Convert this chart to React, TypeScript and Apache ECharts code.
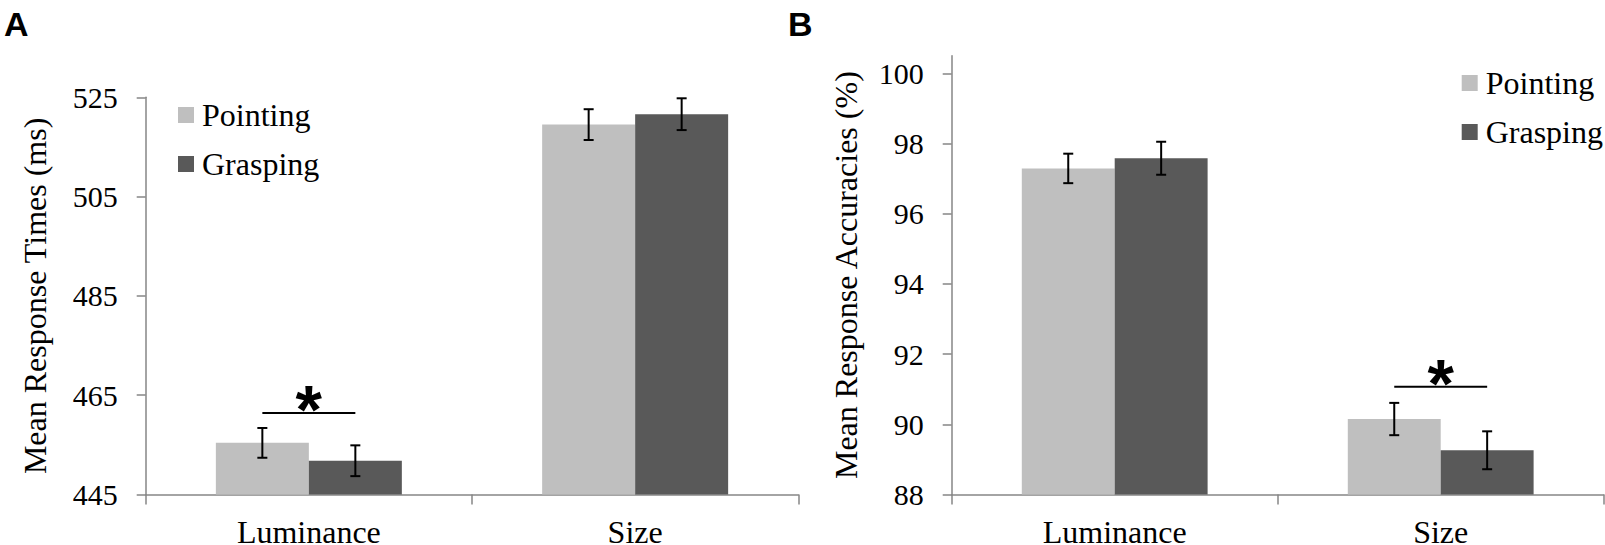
import React, { useEffect, useRef } from "react";
import * as echarts from "echarts";

const categories = ["Luminance", "Size"];
const seriesNames = ["Pointing", "Grasping"];

// Panel A: Mean response times (ms)
const rtPointing = [455.4, 519.5];
const rtPointingErr = [3.0, 3.1];
const rtGrasping = [451.8, 521.6];
const rtGraspingErr = [3.1, 3.2];
const rtTicks = [445, 465, 485, 505, 525];
const rtSig = [{ category: 0, level: 461.4 }];

// Panel B: Mean response accuracies (%)
const accPointing = [97.29, 90.15];
const accPointingErr = [0.42, 0.46];
const accGrasping = [97.58, 89.26];
const accGraspingErr = [0.47, 0.54];
const accTicks = [88, 90, 92, 94, 96, 98, 100];
const accSig = [{ category: 1, level: 91.07 }];

const SERIF = '"Liberation Serif", "Times New Roman", serif';
const SANS = '"Liberation Sans", Arial, sans-serif';
const AXIS = "#868686";
const LIGHT = "#bfbfbf";
const DARK = "#595959";
const GAP = 0.43;

function errorSeries(ai: number, vals: number[], errs: number[], side: number) {
  return {
    type: "custom",
    name: "err" + ai + side,
    xAxisIndex: ai,
    yAxisIndex: ai,
    silent: true,
    z: 10,
    data: vals.map((v, i) => [i, v - errs[i], v + errs[i], side]),
    encode: { x: 0, y: [1, 2] },
    renderItem: (_params: any, api: any) => {
      const lo = api.coord([api.value(0), api.value(1)]);
      const hi = api.coord([api.value(0), api.value(2)]);
      const bw = (api.size([1, 0])[0] * (1 - GAP)) / 2;
      const x = lo[0] + (api.value(3) === 0 ? -bw / 2 : bw / 2);
      const cap = 5;
      const style = { stroke: "#000", lineWidth: 2 };
      return {
        type: "group",
        children: [
          { type: "line", shape: { x1: x, y1: hi[1], x2: x, y2: lo[1] }, style },
          { type: "line", shape: { x1: x - cap, y1: hi[1], x2: x + cap, y2: hi[1] }, style },
          { type: "line", shape: { x1: x - cap, y1: lo[1], x2: x + cap, y2: lo[1] }, style },
        ],
      };
    },
  };
}

function sigSeries(ai: number, sig: { category: number; level: number }[]) {
  return {
    type: "custom",
    name: "sig" + ai,
    xAxisIndex: ai,
    yAxisIndex: ai,
    silent: true,
    z: 10,
    data: sig.map((s) => [s.category, s.level]),
    encode: { x: 0, y: 1 },
    renderItem: (_params: any, api: any) => {
      const p = api.coord([api.value(0), api.value(1)]);
      const bw = (api.size([1, 0])[0] * (1 - GAP)) / 2;
      return {
        type: "group",
        children: [
          {
            type: "line",
            shape: { x1: p[0] - bw / 2, y1: p[1], x2: p[0] + bw / 2, y2: p[1] },
            style: { stroke: "#000", lineWidth: 2 },
          },
          {
            type: "text",
            style: {
              text: "*",
              x: p[0],
              y: p[1] - 4,
              align: "center",
              verticalAlign: "middle",
              font: "bold 68px " + SANS,
              fill: "#000",
            },
          },
        ],
      };
    },
  };
}

function barSeries(ai: number, name: string, vals: number[], color: string) {
  return {
    type: "bar",
    name,
    xAxisIndex: ai,
    yAxisIndex: ai,
    data: vals,
    barGap: "0%",
    barCategoryGap: GAP * 100 + "%",
    itemStyle: { color },
    silent: true,
  };
}

function xAxis(gi: number) {
  return {
    type: "category",
    gridIndex: gi,
    data: categories,
    axisLine: { show: true, lineStyle: { color: AXIS, width: 1.5 } },
    axisTick: { show: true, length: 10, inside: false, lineStyle: { color: AXIS, width: 1.5 } },
    axisLabel: { fontSize: 32, lineHeight: 24, color: "#000", margin: 25, fontFamily: SERIF },
    splitLine: { show: false },
  };
}

function yAxis(gi: number, min: number, max: number, ticks: number[], name: string, nameGap: number) {
  return {
    type: "value",
    gridIndex: gi,
    min,
    max,
    name,
    nameLocation: "middle",
    nameGap,
    nameTextStyle: { fontSize: 32, color: "#000", fontFamily: SERIF },
    axisLine: { show: true, lineStyle: { color: AXIS, width: 1.5 } },
    axisTick: { show: true, length: 9, inside: false, customValues: ticks, lineStyle: { color: AXIS, width: 1.5 } },
    axisLabel: {
      customValues: ticks,
      fontSize: 30,
      color: "#000",
      margin: 28,
      fontFamily: SERIF,
      formatter: (v: number) => (ticks.indexOf(v) >= 0 ? "{t|" + v + "}" : ""),
      rich: { t: { fontSize: 30, fontFamily: SERIF, color: "#000" } },
    },
    splitLine: { show: false },
  };
}

function legend(left: number, top: number) {
  return {
    orient: "vertical",
    left,
    top,
    padding: 0,
    itemWidth: 16,
    itemHeight: 16,
    itemGap: 17,
    icon: "rect",
    selectedMode: false,
    data: seriesNames,
    textStyle: { fontSize: 32, lineHeight: 32, color: "#000", fontFamily: SERIF, padding: [0, 0, 0, 3] },
  };
}

export default function App() {
  const ref = useRef<HTMLDivElement>(null);
  useEffect(() => {
    document.body.style.margin = "0";
    if (!ref.current) return;
    const chart = echarts.init(ref.current, null, { renderer: "svg" });
    chart.setOption({
      animation: false,
      backgroundColor: "#fff",
      textStyle: { fontFamily: SERIF },
      grid: [
        { left: 145.7, top: 97.3, width: 652.6, height: 397.2, containLabel: false, outerBoundsMode: "none" },
        { left: 951.7, top: 55.75, width: 652, height: 438.75, containLabel: false, outerBoundsMode: "none" },
      ],
      legend: [legend(178, 99), legend(1461.7, 67)],
      xAxis: [xAxis(0), xAxis(1)],
      yAxis: [
        yAxis(0, 445, 525, rtTicks, "Mean Response Times (ms)", 94.5),
        yAxis(1, 88, 100.5, accTicks, "Mean Response Accuracies (%)", 90),
      ],
      graphic: [
        { type: "text", left: 4, top: 7, style: { text: "A", font: "bold 34px " + SANS, fill: "#000" } },
        { type: "text", left: 788, top: 7, style: { text: "B", font: "bold 34px " + SANS, fill: "#000" } },
      ],
      series: [
        barSeries(0, seriesNames[0], rtPointing, LIGHT),
        barSeries(0, seriesNames[1], rtGrasping, DARK),
        barSeries(1, seriesNames[0], accPointing, LIGHT),
        barSeries(1, seriesNames[1], accGrasping, DARK),
        errorSeries(0, rtPointing, rtPointingErr, 0),
        errorSeries(0, rtGrasping, rtGraspingErr, 1),
        errorSeries(1, accPointing, accPointingErr, 0),
        errorSeries(1, accGrasping, accGraspingErr, 1),
        sigSeries(0, rtSig),
        sigSeries(1, accSig),
      ],
    });
    return () => chart.dispose();
  }, []);
  return <div ref={ref} style={{ width: 1605, height: 545 }} />;
}
